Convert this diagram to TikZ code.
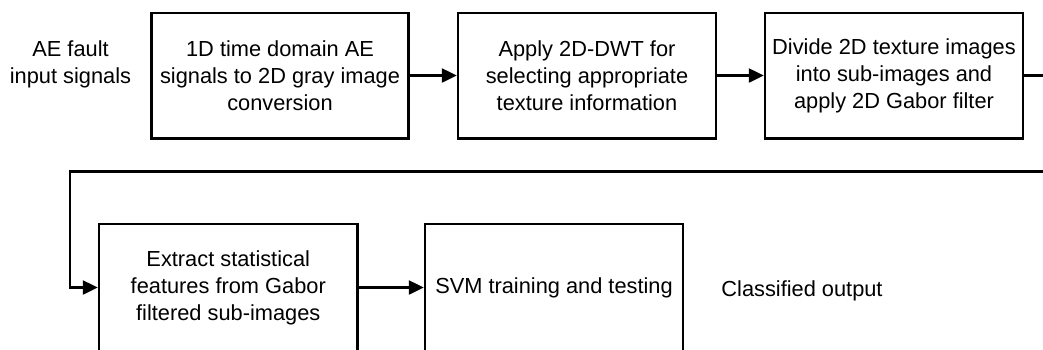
\documentclass[tikz,border=0pt]{standalone}
\usepackage{fontspec}
\setmainfont{Liberation Sans}
\usetikzlibrary{arrows.meta}
\begin{document}
\begin{tikzpicture}[x=1pt,y=-1pt,
  every node/.style={font=\fontsize{21.8}{27}\selectfont, align=center, inner sep=0pt},
  stepbox/.style={draw, line width=2.5pt, minimum height=125.5pt},
  arr/.style={line width=2.5pt, -{Triangle[length=15pt,width=14pt]}},
  plainline/.style={line width=2.5pt}]
\useasboundingbox (0,0) rectangle (1043,349);
\node[stepbox, minimum width=257pt] (b1) at (280,75.5) {1D time domain AE\\signals to 2D gray image\\conversion};
\node[stepbox, minimum width=258pt] (b2) at (587,75.5) {Apply 2D-DWT for\\selecting appropriate\\texture information};
\node[stepbox, minimum width=258pt] (b3) at (894,75.5) {Divide 2D texture images\\into sub-images and\\apply 2D Gabor filter};
\node[stepbox, minimum width=258.5pt, minimum height=127pt] (b4) at (228.25,287.5) {Extract statistical\\features from Gabor\\filtered sub-images};
\node[stepbox, minimum width=258pt, minimum height=127pt] (b5) at (554,287.5) {SVM training and testing};
\node (in) at (70.5,64) {AE fault\\input signals};
\node (out) at (802,291) {Classified output};
\coordinate (r1) at (1060,75.5);
\coordinate (r2) at (1060,171.5);
\coordinate (l1) at (70,171.5);
\draw[arr] (b1) -- (b2);
\draw[arr] (b2) -- (b3);
\draw[arr] (b3.east) -- (r1) -- (r2) -- (l1) |- (b4.west);
\draw[arr] (b4) -- (b5);
\end{tikzpicture}
\end{document}
